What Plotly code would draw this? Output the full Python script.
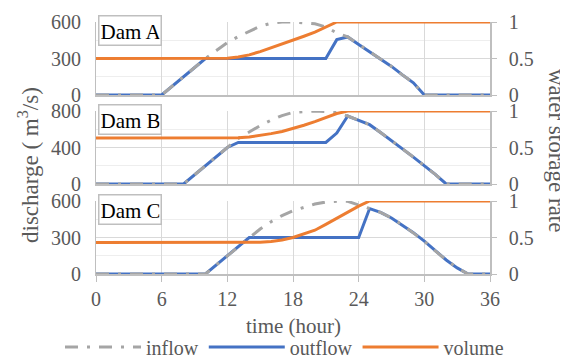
import plotly.graph_objects as go
from plotly.subplots import make_subplots

# ---------------- data ----------------
hours = list(range(0, 37))
x_ticks = [0, 6, 12, 18, 24, 30, 36]

# Dam A
inflow_A = [0, 0, 0, 0, 0, 0, 0, 75, 150, 225, 300, 365, 430, 480, 525, 565, 590, 600, 600,
            595, 585, 560, 510, 477, 415, 355, 295, 235, 165, 100, 0, 0, 0, 0, 0, 0, 0]
outflow_A_hours = [0, 6, 10, 21, 22, 23, 24, 25, 26, 27, 28, 29, 30, 36]
outflow_A = [0, 0, 300, 300, 455, 477, 415, 355, 295, 235, 165, 100, 0, 0]
volume_A = [0.5] * 12 + [0.505, 0.52, 0.55, 0.595, 0.645, 0.70, 0.755, 0.805, 0.86, 0.925, 1.0] + [1.0] * 14

# Dam B
inflow_B = [0, 0, 0, 0, 0, 0, 0, 0, 0, 100, 200, 300, 400, 500, 570, 640, 700, 750, 785,
            795, 800, 795, 785, 745, 700, 650, 565, 480, 385, 295, 205, 105, 0, 0, 0, 0, 0]
outflow_B_hours = [0, 8, 12, 13, 21, 22, 23, 24, 25, 26, 27, 28, 29, 30, 31, 32, 36]
outflow_B = [0, 0, 400, 455, 455, 558, 745, 700, 650, 565, 480, 385, 295, 205, 105, 0, 0]
volume_B = [0.63] * 13 + [0.632, 0.645, 0.665, 0.69, 0.72, 0.76, 0.805, 0.855, 0.915, 0.965, 1.0] + [1.0] * 13

# Dam C
inflow_C = [0, 0, 0, 0, 0, 0, 0, 0, 0, 0, 0, 75, 150, 225, 300, 370, 430, 480, 520,
            550, 575, 592, 598, 597, 570, 538, 506, 460, 403, 340, 270, 190, 115, 50, 0, 0, 0]
outflow_C_hours = [0, 10, 14, 24, 25, 26, 27, 28, 29, 30, 31, 32, 33, 34, 36]
outflow_C = [0, 0, 300, 300, 538, 506, 460, 403, 340, 270, 190, 115, 50, 0, 0]
volume_C = [0.43] * 15 + [0.435, 0.445, 0.465, 0.50, 0.545, 0.60, 0.68, 0.765, 0.85, 0.93, 1.0] + [1.0] * 11

dams = ["Dam A", "Dam B", "Dam C"]
left_ticks = [[0, 300, 600], [0, 400, 800], [0, 300, 600]]
left_minor = [150, 200, 150]
right_ticks = [0, 0.5, 1]
right_ticktext = ["0", "0.5", "1"]

# ---------------- styling ----------------
BLUE = "#4472C4"
ORANGE = "#ED7D31"
GRAY = "#A5A5A5"
GRID = "#D9D9D9"
AXIS = "#BFBFBF"
TXT = "#595959"
FONT = "Liberation Serif"

# the page body adds an 8px offset; figure is sized so that it ends at the window edge
W, H = 560, 350
ML, MR, MT, MB = 88, 78, 14, 84
PW, PH = W - ML - MR, H - MT - MB


def py(sy):  # screenshot pixel y -> paper y
    return (MT + PH - (sy - 8)) / PH


def pxx(sx):  # screenshot pixel x -> paper x
    return (sx - 8 - ML) / PW


fig = make_subplots(rows=3, cols=1, shared_xaxes=True,
                    specs=[[{"secondary_y": True}]] * 3)

series = [
    (inflow_A, outflow_A_hours, outflow_A, volume_A),
    (inflow_B, outflow_B_hours, outflow_B, volume_B),
    (inflow_C, outflow_C_hours, outflow_C, volume_C),
]

for i, (inf, oh, outf, vol) in enumerate(series):
    r = i + 1
    first = i == 0
    fig.add_trace(go.Scatter(x=oh, y=outf, mode="lines", name="outflow",
                             line=dict(color=BLUE, width=3), legendrank=2,
                             showlegend=first, cliponaxis=False),
                  row=r, col=1, secondary_y=False)
    fig.add_trace(go.Scatter(x=hours, y=inf, mode="lines", name="inflow",
                             line=dict(color=GRAY, width=3, dash="13px,9px,3px,9px"),
                             legendrank=1, showlegend=first, cliponaxis=False),
                  row=r, col=1, secondary_y=False)
    fig.add_trace(go.Scatter(x=hours, y=vol, mode="lines", name="volume",
                             line=dict(color=ORANGE, width=3), legendrank=3,
                             showlegend=first, cliponaxis=False),
                  row=r, col=1, secondary_y=True)

# panel extents in screenshot pixels (top, bottom)
panels = [(22, 95), (111, 184), (201, 274)]

for i, (top, bot) in enumerate(panels):
    dom = [py(bot), py(top)]
    xname = "xaxis" if i == 0 else f"xaxis{i + 1}"
    ylname = "yaxis" if i == 0 else f"yaxis{2 * i + 1}"
    yrname = f"yaxis{2 * i + 2}"
    lt = left_ticks[i]
    fig.layout[ylname].update(
        domain=dom, range=[0, lt[-1]], tickvals=lt, showgrid=True, gridcolor=GRID,
        gridwidth=1, zeroline=False, showline=True, linecolor=AXIS, linewidth=1,
        tickfont=dict(family=FONT, size=20, color=TXT), ticks="", ticklabelstandoff=10,
        minor=dict(dtick=left_minor[i], showgrid=True, gridcolor="#EEEEEE", gridwidth=1))
    fig.layout[yrname].update(
        range=[0, 1], tickvals=right_ticks, ticktext=right_ticktext, showgrid=False,
        zeroline=False, showline=True, linecolor=AXIS, linewidth=1.5,
        ticks="outside", ticklen=5, tickcolor=AXIS,
        tickfont=dict(family=FONT, size=20, color=TXT), ticklabelstandoff=8)
    fig.layout[xname].update(
        domain=[0, 1], range=[0, 36], tickvals=x_ticks, showgrid=True, gridcolor=GRID,
        gridwidth=1, zeroline=False, showline=True, linecolor=AXIS, linewidth=2,
        tickfont=dict(family=FONT, size=20, color=TXT),
        ticks="outside" if i == 2 else "", ticklen=6, tickcolor=AXIS,
        showticklabels=(i == 2))

annotations = []
for i, (top, bot) in enumerate(panels):
    annotations.append(dict(
        text=dams[i], xref="paper", yref="paper", x=pxx(98), y=py(top - 7),
        xanchor="left", yanchor="top", showarrow=False, align="left", valign="bottom",
        font=dict(family=FONT, size=21, color="#000000"),
        bgcolor="white", bordercolor=AXIS, borderwidth=1.5, borderpad=1,
        width=59, height=26))

annotations += [
    dict(text="discharge ( m<sup>3</sup>/s)", xref="paper", yref="paper",
         x=pxx(28), y=py(165), textangle=-90, showarrow=False,
         xanchor="center", yanchor="middle", font=dict(family=FONT, size=23, color=TXT)),
    dict(text="water storage rate", xref="paper", yref="paper",
         x=pxx(557), y=py(150), textangle=90, showarrow=False,
         xanchor="center", yanchor="middle", font=dict(family=FONT, size=23, color=TXT)),
    dict(text="time (hour)", xref="paper", yref="paper",
         x=pxx(293), y=py(326), showarrow=False,
         xanchor="center", yanchor="middle", font=dict(family=FONT, size=21, color=TXT)),
]

fig.update_layout(
    width=W, height=H,
    margin=dict(l=ML, r=MR, t=MT, b=MB, autoexpand=False),
    paper_bgcolor="white", plot_bgcolor="white",
    font=dict(family=FONT, size=20, color=TXT),
    annotations=annotations,
    showlegend=True,
    legend=dict(orientation="h", x=pxx(60), xanchor="left", y=py(347), yanchor="middle",
                font=dict(family=FONT, size=20, color=TXT), bgcolor="rgba(0,0,0,0)",
                itemwidth=76, tracegroupgap=0),
)

fig.write_html("out.html")
